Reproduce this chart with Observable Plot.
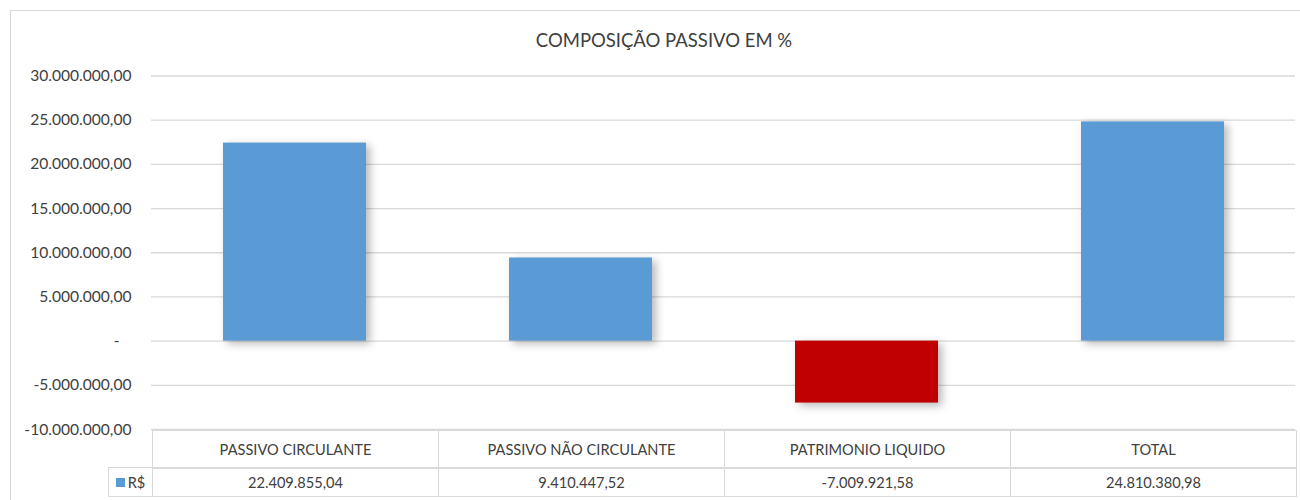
<!DOCTYPE html>
<html>
<head>
<meta charset="utf-8">
<script src="https://cdn.jsdelivr.net/npm/d3@7"></script>
<script src="https://cdn.jsdelivr.net/npm/@observablehq/plot@0.6"></script>
<style>
  html, body { margin: 0; padding: 0; background: #fff; }
  #wrap { position: relative; width: 1300px; height: 500px; overflow: hidden; font-family: Lato, "Open Sans", sans-serif; color: #404040; }
  #frame { position: absolute; left: 10px; top: 10px; width: 1300px; height: 600px; border: 1px solid #d9d9d9; box-sizing: border-box; }
  #title { position: absolute; left: 0; width: 1328px; top: 29px; text-align: center; font-size: 18.5px; color: #404040; }
  #chart { position: absolute; left: 0; top: 0; }
  .cell { position: absolute; box-sizing: border-box; border: 1px solid #d9d9d9; display: flex; align-items: center; justify-content: center; font-size: 14.6px; color: #404040; white-space: nowrap; }
  .sw { display: inline-block; width: 9px; height: 9px; margin-right: 3px; }
  .bars rect { filter: drop-shadow(4px 3px 4px rgba(0,0,0,0.28)); }
</style>
</head>
<body>
<div id="wrap">
  <div id="frame"></div>
  <div id="chart"></div>
  <div id="title"></div>
</div>
<script>
const title = "COMPOSIÇÃO PASSIVO EM %";
const categories = ["PASSIVO CIRCULANTE", "PASSIVO NÃO CIRCULANTE", "PATRIMONIO LIQUIDO", "TOTAL"];
const values = [22409855.04, 9410447.52, -7009921.58, 24810380.98];
const seriesName = "R$";
const yTicks = [-10000000, -5000000, 0, 5000000, 10000000, 15000000, 20000000, 25000000, 30000000];
const positiveColor = "#5B9BD5";
const negativeColor = "#C00000";

const br = d3.formatLocale({decimal: ",", thousands: ".", grouping: [3], currency: ["R$", ""], minus: "-"});
const fmt = br.format(",.2f");
const tickFormat = v => v === 0 ? "-\u00a0\u00a0\u00a0" : fmt(v);

const data = categories.map((c, i) => ({category: c, value: values[i]}));

document.getElementById("title").textContent = title;

const plot = Plot.plot({
  width: 1300,
  height: 500,
  marginTop: 75.5,
  marginBottom: 71,
  marginLeft: 151,
  marginRight: 5,
  style: {fontFamily: "Lato, 'Open Sans', sans-serif", fontSize: "15.6px", color: "#404040", background: "transparent"},
  x: {domain: categories, paddingInner: 0.5, paddingOuter: 0.25, axis: null},
  y: {domain: [-10000000, 30000000], axis: null},
  marks: [
    Plot.gridY(yTicks, {stroke: "#d9d9d9", strokeOpacity: 1, strokeWidth: 1.3}),
    Plot.axisY(yTicks, {tickSize: 0, tickPadding: 20, tickFormat, fontSize: 15.6, fill: "#404040", label: null}),
    Plot.barY(data, {x: "category", y: "value", fill: d => d.value < 0 ? negativeColor : positiveColor, className: "bars"})
  ]
});
document.getElementById("chart").appendChild(plot);

// data table below the plot, aligned on the x band scale
const xs = plot.scale("x");
const step = xs.step;
const wrap = document.getElementById("wrap");
const row1Top = 430, row1H = 38, row2Top = 467, row2H = 29;
function cell(left, top, w, h, html) {
  const d = document.createElement("div");
  d.className = "cell";
  d.style.left = left + "px"; d.style.top = top + "px";
  d.style.width = w + "px"; d.style.height = h + "px";
  d.innerHTML = html;
  wrap.appendChild(d);
  return d;
}
categories.forEach((c, i) => {
  const center = xs.apply(c) + xs.bandwidth / 2;
  const left = Math.round(center - step / 2);
  cell(left, row1Top, Math.round(step) + 1, row1H + 1, c);
  cell(left, row2Top, Math.round(step) + 1, row2H + 1, fmt(values[i]));
});
const firstLeft = Math.round(xs.apply(categories[0]) + xs.bandwidth / 2 - step / 2);
cell(108, row2Top, firstLeft - 108 + 1, row2H + 1, `<span class="sw" style="background:${positiveColor}"></span>${seriesName}`);
</script>
</body>
</html>
